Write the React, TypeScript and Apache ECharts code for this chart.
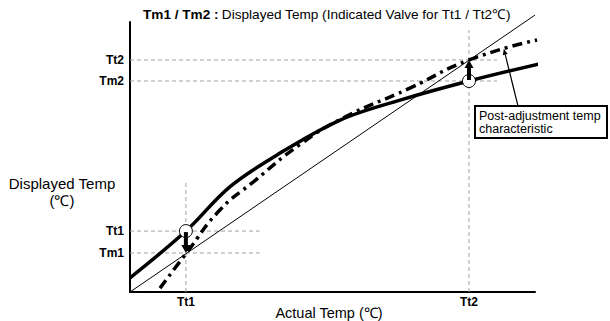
import React, { useEffect, useRef } from "react";
import * as echarts from "echarts";

const X_MAX = 100;
const Y_MAX = 97.5;

const xTickNames = ["Tt1", "Tt2"];
const xTickValues = [13.8, 83.7];
const yTickNames = ["Tt1", "Tm1", "Tt2", "Tm2"];
const yTickValues = [22.0, 14.1, 83.8, 76.2];

const diagonalX = [0, 100];
const diagonalY = [0, 100];

const displayedX = [0, 13.8, 24.5, 36.3, 51.9, 66.7, 83.7, 102];
const displayedY = [5.1, 22.0, 37.8, 49.5, 62.1, 69.3, 76.2, 82.7];

const adjustedX = [7.4, 14.1, 22.2, 30.4, 42.0, 52.6, 69.1, 83.7, 100.5];
const adjustedY = [1.4, 14.4, 29.6, 39.7, 53.3, 62.8, 73.6, 83.8, 91.0];

// guide extents
const hGuideEnd = [32, 32, 90.6, 90.6];
const vGuideEnd = [39.4, 94.6];

// correction markers: [x, fromY, toY]
const corrections = [
  [13.8, 22.0, 14.1],
  [83.7, 76.2, 83.8],
];

const annotationTarget = [92.3, 87.8];
const annotationText = "Post-adjustment temp\ncharacteristic";

const FONT = "Liberation Sans, Arial, sans-serif";

export default function App() {
  const ref = useRef<HTMLDivElement>(null);
  useEffect(() => {
    if (!ref.current) return;
    const chart = echarts.init(ref.current, null, { renderer: "svg" });
    const zip = (xs: number[], ys: number[]) => xs.map((x, i) => [x, ys[i]]);
    const guideStyle = { color: "#a0a0a0", width: 1, type: [4, 3] as any };
    const series: any[] = [];
    yTickValues.forEach((v, i) => {
      series.push({
        type: "line",
        data: [[0, v], [hGuideEnd[i], v]],
        symbol: "none",
        lineStyle: guideStyle,
        silent: true,
      });
    });
    xTickValues.forEach((v, i) => {
      series.push({
        type: "line",
        data: [[v, 0], [v, vGuideEnd[i]]],
        symbol: "none",
        lineStyle: guideStyle,
        silent: true,
      });
    });
    series.push({
      type: "line",
      data: zip(diagonalX, diagonalY),
      symbol: "none",
      clip: false,
      lineStyle: { color: "#000", width: 1 },
    });
    series.push({
      type: "line",
      data: zip(displayedX, displayedY),
      symbol: "none",
      smooth: 0.35,
      clip: false,
      lineStyle: { color: "#000", width: 3.5 },
    });
    series.push({
      type: "line",
      data: zip(adjustedX, adjustedY),
      symbol: "none",
      smooth: 0.5,
      clip: false,
      lineStyle: { color: "#000", width: 3.5, type: [10, 5, 3, 5] },
    });

    chart.setOption({
      animation: false,
      grid: { left: 130, top: 22, width: 405, height: 270 },
      xAxis: {
        type: "value",
        min: 0,
        max: X_MAX,
        axisLine: { lineStyle: { color: "#000", width: 2 } },
        axisTick: { show: false },
        axisLabel: { show: false },
        splitLine: { show: false },
      },
      yAxis: {
        type: "value",
        min: 0,
        max: Y_MAX,
        axisLine: { lineStyle: { color: "#000", width: 2 } },
        axisTick: { show: false },
        axisLabel: { show: false },
        splitLine: { show: false },
      },
      series,
    });

    const px = (x: number, y: number) => chart.convertToPixel({ gridIndex: 0 }, [x, y]) as number[];
    const graphic: any[] = [];
    const origin = px(0, 0);
    // title
    graphic.push({
      type: "text",
      x: 143,
      y: 14,
      style: {
        text: "{b|Tm1 / Tm2 :} {n|Displayed Temp (Indicated Valve for Tt1 / Tt2℃)}",
        verticalAlign: "middle",
        rich: {
          b: { fontFamily: FONT, fontSize: 13.6, fontWeight: "bold", fill: "#000" },
          n: { fontFamily: FONT, fontSize: 13.6, fill: "#000" },
        },
      },
    });
    xTickNames.forEach((n, i) => {
      const p = px(xTickValues[i], 0);
      graphic.push({
        type: "text",
        x: p[0],
        y: origin[1] + 10,
        style: { text: n, fontFamily: FONT, fontSize: 12, fontWeight: "bold", fill: "#000", align: "center", verticalAlign: "middle" },
      });
    });
    yTickNames.forEach((n, i) => {
      const p = px(0, yTickValues[i]);
      graphic.push({
        type: "text",
        x: origin[0] - 6,
        y: p[1],
        style: { text: n, fontFamily: FONT, fontSize: 12, fontWeight: "bold", fill: "#000", align: "right", verticalAlign: "middle" },
      });
    });
    corrections.forEach(([x, y0, y1]) => {
      const a = px(x, y0);
      const b = px(x, y1);
      const dir = b[1] > a[1] ? 1 : -1;
      graphic.push({
        type: "circle",
        shape: { cx: a[0], cy: a[1], r: 6.5 },
        style: { fill: "#fff", stroke: "#000", lineWidth: 1 },
        z: 100,
      });
      const headLen = 7;
      graphic.push({
        type: "line",
        shape: { x1: a[0], y1: a[1] + dir * 1, x2: b[0], y2: b[1] - dir * headLen },
        style: { stroke: "#000", lineWidth: 4 },
        z: 101,
      });
      graphic.push({
        type: "polygon",
        shape: { points: [[b[0] - 4.5, b[1] - dir * (headLen + 1)], [b[0] + 4.5, b[1] - dir * (headLen + 1)], [b[0], b[1]]] },
        style: { fill: "#000" },
        z: 101,
      });
    });
    // annotation
    const boxX = 475, boxY = 106, boxW = 132, boxH = 32;
    const tip = px(annotationTarget[0], annotationTarget[1]);
    const startX = 518, startY = boxY;
    const dx = tip[0] - startX, dy = tip[1] - startY;
    const len = Math.sqrt(dx * dx + dy * dy);
    const ux = dx / len, uy = dy / len;
    const hl = 6, hw = 2.5;
    graphic.push({
      type: "line",
      shape: { x1: startX, y1: startY, x2: tip[0] - ux * hl, y2: tip[1] - uy * hl },
      style: { stroke: "#000", lineWidth: 1.2 },
      z: 100,
    });
    graphic.push({
      type: "polygon",
      shape: {
        points: [
          [tip[0], tip[1]],
          [tip[0] - ux * hl - uy * hw, tip[1] - uy * hl + ux * hw],
          [tip[0] - ux * hl + uy * hw, tip[1] - uy * hl - ux * hw],
        ],
      },
      style: { fill: "#000" },
      z: 100,
    });
    graphic.push({
      type: "rect",
      shape: { x: boxX, y: boxY, width: boxW, height: boxH },
      style: { fill: "#fff", stroke: "#000", lineWidth: 2 },
      z: 100,
    });
    graphic.push({
      type: "text",
      x: boxX + 4,
      y: boxY + boxH / 2,
      style: { text: annotationText, fontFamily: FONT, fontSize: 12.5, lineHeight: 13, fill: "#000", verticalAlign: "middle" },
      z: 101,
    });
    // axis names
    graphic.push({
      type: "text",
      x: 62,
      y: 175,
      style: { text: "Displayed Temp\n(℃)", fontFamily: FONT, fontSize: 15, lineHeight: 17, fill: "#000", align: "center", verticalAlign: "top" },
    });
    graphic.push({
      type: "text",
      x: 329,
      y: 313,
      style: { text: "Actual Temp (℃)", fontFamily: FONT, fontSize: 14.5, fill: "#000", align: "center", verticalAlign: "middle" },
    });
    chart.setOption({ graphic });

    return () => chart.dispose();
  }, []);
  return <div ref={ref} style={{ width: 610, height: 321, position: "absolute", left: 0, top: 0 }} />;
}
